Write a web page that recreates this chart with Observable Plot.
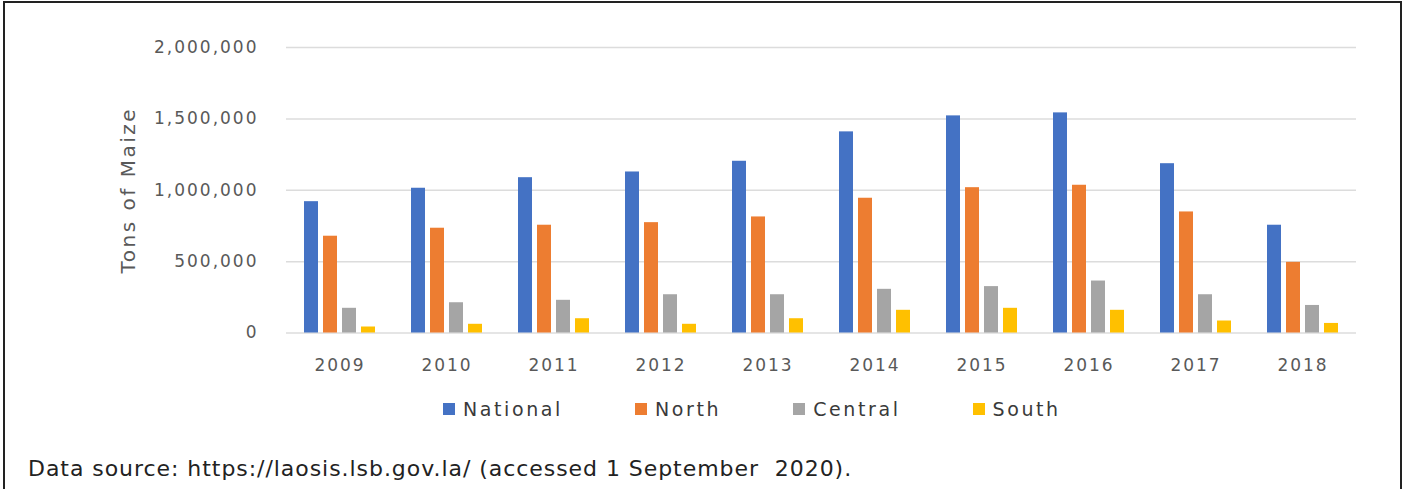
<!DOCTYPE html>
<html>
<head>
<meta charset="utf-8">
<script src="https://cdn.jsdelivr.net/npm/d3@7"></script>
<script src="https://cdn.jsdelivr.net/npm/@observablehq/plot@0.6"></script>
<style>
  html, body { margin: 0; padding: 0; background: #fff; }
  body { width: 1403px; height: 489px; position: relative; overflow: hidden; font-family: "DejaVu Sans", sans-serif; }
  #frame { position: absolute; left: 3px; top: 1px; right: 1px; bottom: -10px; border: 2px solid #222; pointer-events: none; }
  #chart { position: absolute; left: 0; top: 0; }
  #legend { position: absolute; left: 443px; top: 398px; display: flex; align-items: center; font-size: 19px; color: #3a3a3a; letter-spacing: 2.6px; }
  #legend .item { display: flex; align-items: center; margin-right: 72px; }
  #legend .sw { width: 12px; height: 12px; margin-right: 8px; }
  #caption { position: absolute; left: 28px; top: 456px; font-size: 22px; color: #222; white-space: pre; letter-spacing: 0.95px; }
</style>
</head>
<body>
<div id="chart"></div>
<div id="legend"></div>
<div id="caption"></div>
<div id="frame"></div>
<script>
const years = ["2009", "2010", "2011", "2012", "2013", "2014", "2015", "2016", "2017", "2018"];
const seriesNames = ["National", "North", "Central", "South"];
const seriesColors = ["#4472C4", "#ED7D31", "#A5A5A5", "#FFC000"];
const national = [920000, 1014000, 1088000, 1128000, 1203000, 1409000, 1521000, 1542000, 1186000, 755000];
const north = [678000, 734000, 755000, 773000, 813000, 944000, 1018000, 1035000, 848000, 495000];
const central = [173000, 212000, 229000, 268000, 268000, 306000, 325000, 364000, 268000, 193000];
const south = [42000, 61000, 100000, 61000, 100000, 159000, 173000, 159000, 84000, 67000];
const yTicks = [0, 500000, 1000000, 1500000, 2000000];
const yLabel = "Tons of Maize";
const captionText = "Data source: https://laosis.lsb.gov.la/ (accessed 1 September  2020).";

const valuesBySeries = [national, north, central, south];
const data = [];
years.forEach((yr, i) => {
  seriesNames.forEach((s, j) => data.push({year: yr, series: s, value: valuesBySeries[j][i]}));
});

const plot = Plot.plot({
  width: 1403,
  height: 390,
  marginLeft: 283,
  marginRight: 45,
  marginTop: 47,
  marginBottom: 57.5,
  style: {fontFamily: "DejaVu Sans, sans-serif", fontSize: "17px", color: "#595959", letterSpacing: "2px", background: "transparent"},
  fx: {domain: years, padding: 0, label: null},
  x: {domain: seriesNames, paddingInner: 0.25, paddingOuter: 0.8125, axis: null},
  y: {domain: [0, 2000000]},
  color: {domain: seriesNames, range: seriesColors},
  marks: [
    Plot.gridY(yTicks, {stroke: "#dcdcdc", strokeOpacity: 1, strokeWidth: 1.5}),
    Plot.barY(data, {fx: "year", x: "series", y: "value", fill: "series"}),
    Plot.axisY({
      ticks: yTicks,
      tickSize: 0,
      tickPadding: 28,
      tickFormat: d3.format(","),
      fill: "#595959",
      fontSize: 17,
      label: yLabel,
      labelAnchor: "center",
      labelArrow: "none",
      labelOffset: 166
    }),
    Plot.axisFx({anchor: "bottom", tickSize: 0, tickPadding: 26, label: null, fill: "#595959", fontSize: 17})
  ]
});
document.getElementById("chart").appendChild(plot);

// enlarge y label
plot.querySelectorAll("text").forEach(t => {
  if (t.textContent === yLabel) { t.setAttribute("font-size", "20"); t.style.letterSpacing = "2.5px"; }
});

const legend = document.getElementById("legend");
seriesNames.forEach((s, i) => {
  const item = document.createElement("div");
  item.className = "item";
  const sw = document.createElement("span");
  sw.className = "sw";
  sw.style.background = seriesColors[i];
  const lab = document.createElement("span");
  lab.textContent = s;
  item.appendChild(sw);
  item.appendChild(lab);
  legend.appendChild(item);
});
document.getElementById("caption").textContent = captionText;
</script>
</body>
</html>
